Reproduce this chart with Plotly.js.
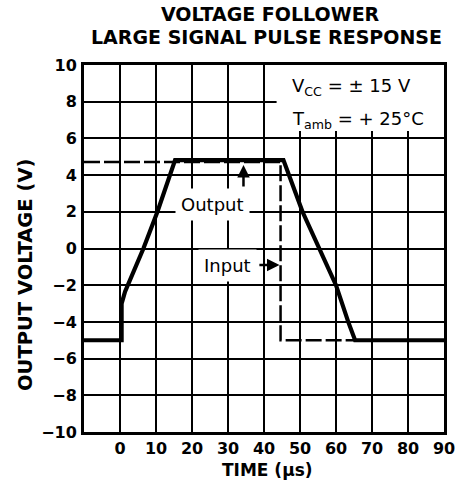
<!DOCTYPE html>
<html>
<head>
<meta charset="utf-8">
<script src="https://cdn.plot.ly/plotly-3.0.1.min.js"></script>
<style>html,body{margin:0;padding:0;background:#fff;}#chart{width:464px;height:490px;}</style>
</head>
<body>
<div id="chart"></div>
<script>
// Tick values / labels
const timeTicks = [0, 10, 20, 30, 40, 50, 60, 70, 80, 90];
const timeTickLabels = ['0', '10', '20', '30', '40', '50', '60', '70', '80', '90'];
const voltTicks = [-10, -8, -6, -4, -2, 0, 2, 4, 6, 8, 10];
const voltTickLabels = ['\u221210', '\u22128', '\u22126', '\u22124', '\u22122', '0', '2', '4', '6', '8', '10'];

// Output waveform (solid)
const outputTime = [-10, 0.45, 0.45, 1.4, 6.5, 10.4, 15.3, 45.4, 50.7, 55.4, 60, 63.4, 65.3, 90];
const outputVolt = [-5, -5, -3.0, -2.35, 0, 2, 4.82, 4.82, 2, 0, -2, -4, -5, -5];

// Input waveform (dashed)
const inputTime = [-10, 44.6, 44.6, 65.3];
const inputVolt = [4.72, 4.72, -5, -5];

const titleLines = ['VOLTAGE FOLLOWER', 'LARGE SIGNAL PULSE RESPONSE'];

const fontFam = 'DejaVu Sans';

const traces = [
  {x: inputTime, y: inputVolt, mode: 'lines', type: 'scatter',
   line: {color: '#000', width: 2.5, dash: '16px,4px'}, hoverinfo: 'skip'},
  {x: outputTime, y: outputVolt, mode: 'lines', type: 'scatter',
   line: {color: '#000', width: 4.2}, hoverinfo: 'skip'}
];

const layout = {
  width: 464, height: 490,
  margin: {l: 84, r: 20, t: 65, b: 58},
  paper_bgcolor: '#fff', plot_bgcolor: '#fff',
  showlegend: false,
  xaxis: {
    range: [-10, 90], tickvals: timeTicks, ticktext: timeTickLabels,
    showgrid: true, gridcolor: '#000', gridwidth: 2, zeroline: false,
    showline: true, linecolor: '#000', linewidth: 3, mirror: true,
    ticks: '', ticklabelstandoff: 0,
    tickfont: {family: fontFam, size: 16, color: '#000', weight: 'bold'}
  },
  yaxis: {
    range: [-10, 10], tickvals: voltTicks, ticktext: voltTickLabels,
    showgrid: true, gridcolor: '#000', gridwidth: 2, zeroline: false,
    showline: true, linecolor: '#000', linewidth: 3, mirror: true,
    ticks: '', ticklabelstandoff: 1,
    tickfont: {family: fontFam, size: 16, color: '#000', weight: 'bold'}
  },
  shapes: [
    {type: 'rect', xref: 'x', yref: 'y', x0: 43.5, x1: 90, y0: 6.4, y1: 10,
     fillcolor: '#fff', line: {width: 0}, layer: 'between'}
  ],
  annotations: [
    {xref: 'paper', yref: 'paper', x: 0.519, y: 1.139, xanchor: 'center', yanchor: 'middle',
     showarrow: false, text: '<b>' + titleLines[0] + '</b>',
     font: {family: fontFam, size: 19, color: '#000'}},
    {xref: 'paper', yref: 'paper', x: 0.506, y: 1.076, xanchor: 'center', yanchor: 'middle',
     showarrow: false, text: '<b>' + titleLines[1] + '</b>',
     font: {family: fontFam, size: 19, color: '#000'}},
    {xref: 'paper', yref: 'paper', x: -0.161, y: 0.428, xanchor: 'center', yanchor: 'middle',
     textangle: -90, showarrow: false, text: '<b>OUTPUT VOLTAGE (V)</b>',
     font: {family: fontFam, size: 19.5, color: '#000'}},
    {xref: 'paper', yref: 'paper', x: 0.511, y: -0.1035, xanchor: 'center', yanchor: 'middle',
     showarrow: false, text: '<b>TIME (\u00b5s)</b>',
     font: {family: fontFam, size: 17, color: '#000'}},
    {xref: 'x', yref: 'y', x: 47.2, y: 8.8, xanchor: 'left', yanchor: 'middle', showarrow: false,
     text: 'V<sub>CC</sub> = \u00b1 15 V', font: {family: fontFam, size: 18, color: '#000'}},
    {xref: 'x', yref: 'y', x: 47.2, y: 7.0, xanchor: 'left', yanchor: 'middle', showarrow: false,
     text: 'T<sub>amb</sub> = + 25\u00b0C', font: {family: fontFam, size: 18, color: '#000'}},
    {xref: 'x', yref: 'y', x: 25.8, y: 2.42, xanchor: 'center', yanchor: 'middle', showarrow: false,
     text: 'Output', bgcolor: '#fff', borderpad: 5, font: {family: fontFam, size: 18, color: '#000'}},
    {xref: 'x', yref: 'y', x: 29.9, y: -0.9, xanchor: 'center', yanchor: 'middle', showarrow: false,
     text: 'Input', bgcolor: '#fff', borderpad: 5, font: {family: fontFam, size: 18, color: '#000'}},
    {xref: 'x', yref: 'y', x: 34.3, y: 4.55, axref: 'x', ayref: 'y', ax: 34.3, ay: 3.3,
     text: '', showarrow: true, arrowhead: 2, arrowsize: 1, arrowwidth: 2.5, arrowcolor: '#000'},
    {xref: 'x', yref: 'y', x: 44.3, y: -0.9, axref: 'x', ayref: 'y', ax: 38.3, ay: -0.9,
     text: '', showarrow: true, arrowhead: 2, arrowsize: 1, arrowwidth: 2.5, arrowcolor: '#000'}
  ]
};

Plotly.newPlot('chart', traces, layout, {displayModeBar: false, staticPlot: true});
</script>
</body>
</html>
